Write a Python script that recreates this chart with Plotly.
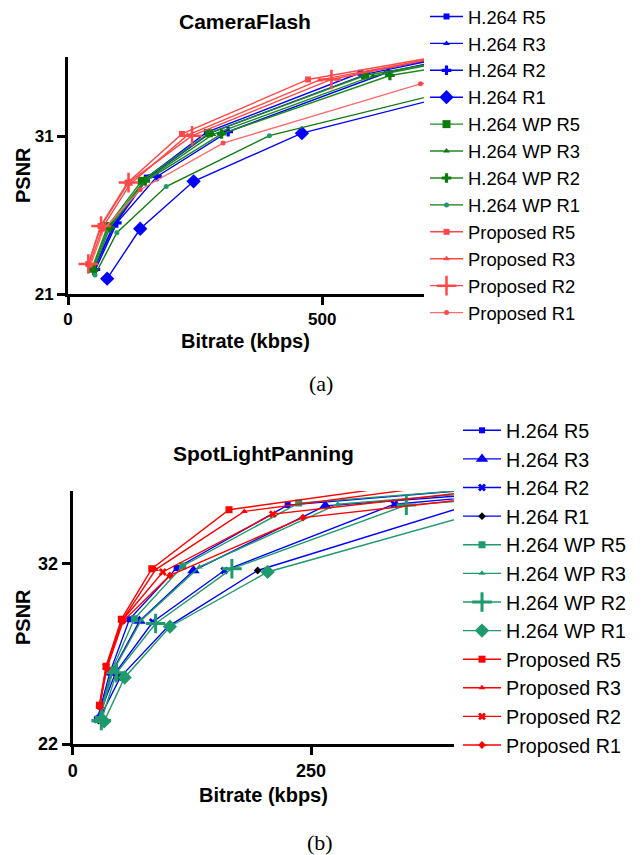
import plotly.graph_objects as go

W, H = 642, 855
OFF = 8  # page body margin offset

# ---------------- CameraFlash (a) ----------------
cf_h264_r5_x = [50, 91, 155, 273, 575, 900]
cf_h264_r5_y = [22.6, 25.45, 28.37, 31.24, 35.0, 36.9]
cf_h264_r3_x = [51, 92, 158, 280, 590, 900]
cf_h264_r3_y = [22.55, 25.4, 28.4, 31.2, 34.95, 37.0]
cf_h264_r2_x = [54, 96, 175, 315, 630, 900]
cf_h264_r2_y = [22.55, 25.5, 28.44, 31.27, 35.05, 36.9]
cf_h264_r1_x = [77, 142, 247, 460, 900]
cf_h264_r1_y = [21.97, 25.13, 28.13, 31.18, 34.78]
cf_wp_r5_x = [47, 78, 145, 277, 584, 900]
cf_wp_r5_y = [22.6, 25.3, 28.16, 31.17, 34.83, 36.6]
cf_wp_r3_x = [48, 80, 148, 285, 600, 900]
cf_wp_r3_y = [22.55, 25.25, 28.1, 31.1, 34.8, 36.7]
cf_wp_r2_x = [50, 82, 152, 302, 633, 900]
cf_wp_r2_y = [22.5, 25.2, 28.15, 31.13, 34.83, 36.2]
cf_wp_r1_x = [53, 96, 193, 396, 800]
cf_wp_r1_y = [22.2, 24.88, 27.8, 31.02, 34.22]
cf_prop_r5_x = [40, 64, 117, 224, 472, 900]
cf_prop_r5_y = [22.9, 25.3, 28.05, 31.13, 34.58, 37.0]
cf_prop_r3_x = [42, 68, 122, 235, 495, 900]
cf_prop_r3_y = [22.8, 25.2, 27.95, 31.05, 34.55, 37.0]
cf_prop_r2_x = [40, 65, 119, 244, 518, 900]
cf_prop_r2_y = [22.9, 25.3, 28.05, 31.02, 34.58, 37.1]
cf_prop_r1_x = [44, 70, 142, 305, 693, 1300]
cf_prop_r1_y = [22.8, 25.1, 27.6, 30.55, 34.3, 36.5]

# ---------------- SpotLightPanning (b) ----------------
sp_h264_r5_x = [26, 39, 59.5, 109, 225.5, 450]
sp_h264_r5_y = [23.4, 25.95, 28.9, 31.74, 35.22, 36.2]
sp_h264_r3_x = [26, 41, 70, 126.7, 265, 450]
sp_h264_r3_y = [23.35, 25.95, 28.8, 31.6, 35.18, 35.9]
sp_h264_r2_x = [26, 45, 84, 159, 337.5, 450]
sp_h264_r2_y = [23.35, 25.95, 28.75, 31.6, 35.27, 35.8]
sp_h264_r1_x = [27, 50, 100, 194, 430]
sp_h264_r1_y = [23.3, 25.7, 28.5, 31.6, 35.45]
sp_wp_r5_x = [27, 41, 64.7, 115.5, 237, 450]
sp_wp_r5_y = [23.35, 26.08, 28.93, 31.85, 35.33, 36.2]
sp_wp_r3_x = [28, 42, 72, 133, 278, 450]
sp_wp_r3_y = [23.3, 26.0, 28.85, 31.8, 35.27, 36.0]
sp_wp_r2_x = [30, 46, 87, 167, 350, 450]
sp_wp_r2_y = [23.3, 25.94, 28.67, 31.7, 35.22, 35.6]
sp_wp_r1_x = [33, 54.5, 102, 204.5, 430]
sp_wp_r1_y = [23.25, 25.68, 28.49, 31.52, 34.85]
sp_prop_r5_x = [28, 35, 51, 83, 164, 400]
sp_prop_r5_y = [24.15, 26.3, 28.9, 31.7, 34.96, 36.7]
sp_prop_r3_x = [28, 35.5, 52, 87, 180, 400]
sp_prop_r3_y = [24.1, 26.25, 28.85, 31.65, 34.87, 36.4]
sp_prop_r2_x = [28.7, 35, 52, 94.5, 210, 450]
sp_prop_r2_y = [24.12, 26.27, 28.85, 31.52, 34.72, 36.15]
sp_prop_r1_x = [28, 36, 53, 102, 241.6, 450]
sp_prop_r1_y = [24.05, 26.2, 28.8, 31.33, 34.53, 35.75]

names = ["H.264 R5", "H.264 R3", "H.264 R2", "H.264 R1",
         "H.264 WP R5", "H.264 WP R3", "H.264 WP R2", "H.264 WP R1",
         "Proposed R5", "Proposed R3", "Proposed R2", "Proposed R1"]

cf_x = [cf_h264_r5_x, cf_h264_r3_x, cf_h264_r2_x, cf_h264_r1_x,
        cf_wp_r5_x, cf_wp_r3_x, cf_wp_r2_x, cf_wp_r1_x,
        cf_prop_r5_x, cf_prop_r3_x, cf_prop_r2_x, cf_prop_r1_x]
cf_y = [cf_h264_r5_y, cf_h264_r3_y, cf_h264_r2_y, cf_h264_r1_y,
        cf_wp_r5_y, cf_wp_r3_y, cf_wp_r2_y, cf_wp_r1_y,
        cf_prop_r5_y, cf_prop_r3_y, cf_prop_r2_y, cf_prop_r1_y]
sp_x = [sp_h264_r5_x, sp_h264_r3_x, sp_h264_r2_x, sp_h264_r1_x,
        sp_wp_r5_x, sp_wp_r3_x, sp_wp_r2_x, sp_wp_r1_x,
        sp_prop_r5_x, sp_prop_r3_x, sp_prop_r2_x, sp_prop_r1_x]
sp_y = [sp_h264_r5_y, sp_h264_r3_y, sp_h264_r2_y, sp_h264_r1_y,
        sp_wp_r5_y, sp_wp_r3_y, sp_wp_r2_y, sp_wp_r1_y,
        sp_prop_r5_y, sp_prop_r3_y, sp_prop_r2_y, sp_prop_r1_y]

BLUE = "#0000FF"
GREEN_A = "#1E8A1E"
GREEN_A_M = "#0A7A0A"
TEAL = "#1F9A6C"
RED_A = "#FF4848"
RED_A2 = "#FF6A6A"
RED_B = "#FF0000"

# style per series: (line color, marker color, symbol, size, marker line width)
cf_style = [
    (BLUE, BLUE, "square", 6, 0),
    (BLUE, BLUE, "triangle-up", 6, 0),
    (BLUE, BLUE, "cross", 8, 0),
    (BLUE, BLUE, "diamond", 11, 0),
    (GREEN_A, GREEN_A_M, "square", 8, 0),
    (GREEN_A, GREEN_A_M, "triangle-up", 6, 0),
    (GREEN_A, GREEN_A_M, "cross", 8, 0),
    ("#107A10", TEAL, "circle", 5, 0),
    (RED_A, RED_A, "square", 6, 0),
    (RED_A, RED_A, "triangle-up", 6, 0),
    (RED_A, RED_A, "cross-thin-open", 14, 2.5),
    (RED_A2, RED_A, "circle", 5, 0),
]
sp_style = [
    (BLUE, BLUE, "square", 6, 0),
    (BLUE, BLUE, "triangle-up", 11, 0),
    (BLUE, BLUE, "x", 7, 0),
    (BLUE, "#000000", "diamond", 6, 0),
    (TEAL, TEAL, "square", 7, 0),
    (TEAL, TEAL, "triangle-up", 6, 0),
    (TEAL, TEAL, "cross-thin-open", 14, 3),
    (TEAL, TEAL, "diamond", 11, 0),
    (RED_B, RED_B, "square", 7, 0),
    (RED_B, RED_B, "triangle-up", 6, 0),
    (RED_B, RED_B, "x", 7, 0),
    (RED_B, RED_B, "diamond", 6, 0),
]

fig = go.Figure()
for i, nm in enumerate(names):
    lc, mc, sym, sz, mlw = cf_style[i]
    fig.add_trace(go.Scatter(
        x=cf_x[i], y=cf_y[i], name=nm, mode="lines+markers",
        line=dict(color=lc, width=1.4),
        marker=dict(symbol=sym, size=sz, color=mc,
                    line=dict(width=mlw, color=mc)),
        xaxis="x", yaxis="y", legend="legend"))
for i, nm in enumerate(names):
    lc, mc, sym, sz, mlw = sp_style[i]
    fig.add_trace(go.Scatter(
        x=sp_x[i], y=sp_y[i], name=nm, mode="lines+markers",
        line=dict(color=lc, width=1.4),
        marker=dict(symbol=sym, size=sz, color=mc,
                    line=dict(width=mlw, color=mc)),
        xaxis="x2", yaxis="y2", legend="legend2"))

FONT = "Arial, Liberation Sans, sans-serif"


def px(x):
    return (x - OFF) / W


def py(y):
    return 1 - (y - OFF) / H


def ax(domain, rng, tickvals, anchor, fs):
    return dict(domain=domain, range=rng, tickvals=tickvals, anchor=anchor,
                showline=True, linewidth=3, linecolor="black",
                ticks="outside", ticklen=8, tickwidth=3, tickcolor="black",
                showgrid=False, zeroline=False, fixedrange=True, automargin=False,
                tickfont=dict(family=FONT, size=fs, color="black", weight="bold"))


fig.update_layout(
    width=W, height=H, margin=dict(l=0, r=0, t=0, b=0, autoexpand=False),
    paper_bgcolor="white", plot_bgcolor="white",
    xaxis=ax([px(68), px(424)], [0, 700], [0, 500], "y", 17),
    yaxis=ax([py(294), py(57)], [21, 36], [21, 31], "x", 17),
    xaxis2=ax([px(72.7), px(454)], [0, 400], [0, 250], "y2", 18),
    yaxis2=ax([py(744), py(491)], [22, 36], [22, 32], "x2", 18),
    legend=dict(x=px(425), y=py(-2), xanchor="left", yanchor="top",
                font=dict(family=FONT, size=18.4, color="black"),
                itemwidth=33, bgcolor="rgba(0,0,0,0)", tracegroupgap=0),
    legend2=dict(x=px(458), y=py(411), xanchor="left", yanchor="top",
                 font=dict(family=FONT, size=19.7, color="black"),
                 itemwidth=38, bgcolor="rgba(0,0,0,0)", tracegroupgap=0),
    showlegend=True,
)


def ann(text, x, y, size, bold=True, angle=0, family=FONT):
    fig.add_annotation(text=text, x=px(x), y=py(y), xref="paper", yref="paper",
                       showarrow=False, textangle=angle, xanchor="center", yanchor="middle",
                       font=dict(family=family, size=size, color="black",
                                 weight="bold" if bold else "normal"))


ann("CameraFlash", 245, 22, 21)
ann("Bitrate (kbps)", 245, 341, 20)
ann("PSNR", 23, 175, 20, angle=-90)
ann("(a)", 321, 383, 22, bold=False, family="Liberation Serif, Times New Roman, serif")

ann("SpotLightPanning", 263, 453, 21)
ann("Bitrate (kbps)", 263, 795, 20)
ann("PSNR", 23, 617, 20, angle=-90)
ann("(b)", 320, 842, 22, bold=False, family="Liberation Serif, Times New Roman, serif")

fig.write_html("out.html")
